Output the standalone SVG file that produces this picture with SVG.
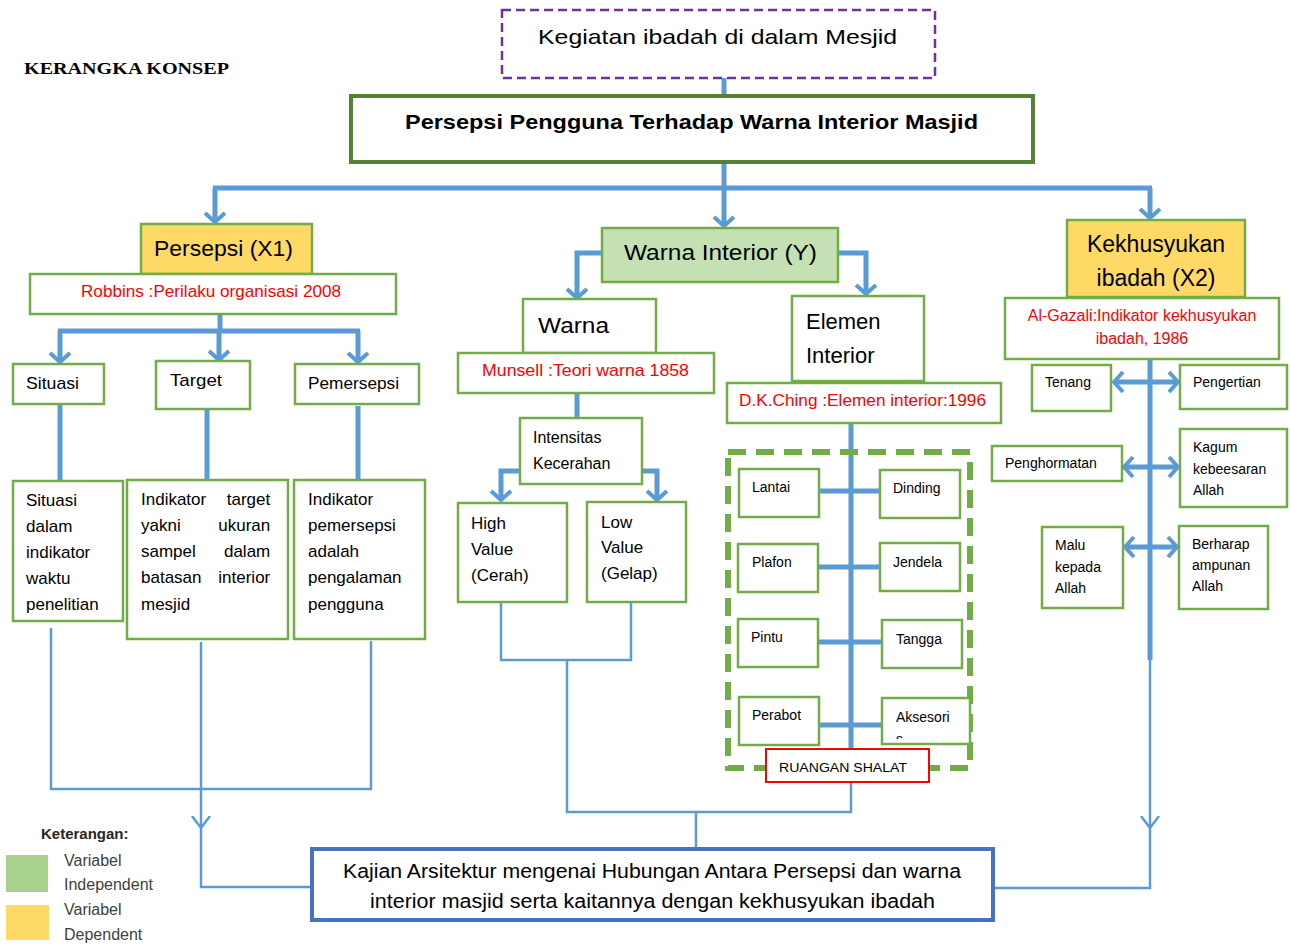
<svg xmlns="http://www.w3.org/2000/svg" width="1290" height="945" viewBox="0 0 1290 945">
<style>
.t{font-family:"Liberation Sans",Arial,sans-serif;fill:#000}
.r{fill:#FF0000}
.g{fill:#404040}
.box{fill:#fff;stroke:#70AD47;stroke-width:2.5}
.thk{fill:none;stroke:#5B9BD5;stroke-width:5}
.thn{fill:none;stroke:#5B9BD5;stroke-width:2.5}
</style>
<defs>
<marker id="ah" viewBox="-12 -12 24 24" refX="0" refY="0" markerWidth="24" markerHeight="24" markerUnits="userSpaceOnUse" orient="auto-start-reverse">
<path d="M-9,-10 L0,0 L-9,10" fill="none" stroke="#5B9BD5" stroke-width="4"/>
</marker>
<marker id="ahs" viewBox="-12 -12 24 24" refX="0" refY="0" markerWidth="24" markerHeight="24" markerUnits="userSpaceOnUse" orient="auto">
<path d="M-12,-9 L0,0 L-12,9" fill="none" stroke="#5B9BD5" stroke-width="2.5"/>
</marker>
<clipPath id="clipAks"><rect x="882" y="698" width="88" height="41"/></clipPath>
</defs>
<rect width="1290" height="945" fill="#fff"/>

<text x="24" y="74" style="font-family:'Liberation Serif','Times New Roman',serif;font-weight:bold;font-size:17px" textLength="205" lengthAdjust="spacingAndGlyphs">KERANGKA KONSEP</text>

<g id="connectors">
<line class="thk" x1="724" y1="78" x2="724" y2="95"/>
<path class="thk" d="M724,163 V226" marker-end="url(#ah)"/>
<path class="thk" d="M213,188 H1152"/>
<path class="thk" d="M215,188 V222" marker-end="url(#ah)"/>
<path class="thk" d="M1150,188 V218" marker-end="url(#ah)"/>
<path class="thk" d="M220,314 V331"/>
<path class="thk" d="M58,331 H360"/>
<path class="thk" d="M60,331 V362" marker-end="url(#ah)"/>
<path class="thk" d="M219,331 V360" marker-end="url(#ah)"/>
<path class="thk" d="M358,331 V362" marker-end="url(#ah)"/>
<path class="thk" d="M60,404 V481"/>
<path class="thk" d="M207,409 V480"/>
<path class="thk" d="M358,406 V480"/>
<path class="thn" d="M51,628 V789 H371 V641"/>
<path class="thn" d="M201,642 V828" marker-end="url(#ahs)"/>
<path class="thn" d="M201,826 V887 H312"/>
<path class="thk" d="M602,253 H577 V298" marker-end="url(#ah)"/>
<path class="thk" d="M838,253 H866 V294" marker-end="url(#ah)"/>
<path class="thk" d="M577,393 V418"/>
<path class="thk" d="M520,471 H501 V500" marker-end="url(#ah)"/>
<path class="thk" d="M642,471 H657 V500" marker-end="url(#ah)"/>
<path class="thn" d="M501,602 V660 H631 V602"/>
<path class="thn" d="M567,660 V812 H851 V782"/>
<path class="thn" d="M696,812 V848"/>
<path class="thk" d="M851,423 V749"/>
<path class="thk" d="M819,491 H880 M818,567 H880 M818,642 H882 M819,725 H882"/>
<path class="thk" d="M1150,359 V660"/>
<path class="thn" d="M1150,658 V828" marker-end="url(#ahs)"/>
<path class="thn" d="M1150,826 V888 H993"/>
<path class="thk" d="M1114,382 H1178" marker-start="url(#ah)" marker-end="url(#ah)"/>
<path class="thk" d="M1124,467 H1178" marker-start="url(#ah)" marker-end="url(#ah)"/>
<path class="thk" d="M1125,547 H1177" marker-start="url(#ah)" marker-end="url(#ah)"/>
</g>

<g id="kegiatan">
<rect x="502" y="10" width="433" height="68" fill="#fff" stroke="#7030A0" stroke-width="2.5" stroke-dasharray="9 5"/>
<text class="t" x="538" y="44" font-size="21" textLength="359" lengthAdjust="spacingAndGlyphs">Kegiatan ibadah di dalam Mesjid</text>
</g>

<g id="persepsi-pengguna">
<rect x="351" y="96" width="682" height="66" fill="#fff" stroke="#548235" stroke-width="4"/>
<text class="t" x="405" y="129" font-size="21" font-weight="bold" textLength="573" lengthAdjust="spacingAndGlyphs">Persepsi Pengguna Terhadap Warna Interior Masjid</text>
</g>

<g id="persepsi-x1">
<rect x="141" y="224" width="171" height="50" fill="#FFD966" stroke="#70AD47" stroke-width="2.5"/>
<text class="t" x="154" y="256" font-size="22" textLength="139" lengthAdjust="spacingAndGlyphs">Persepsi (X1)</text>
</g>
<g id="robbins">
<rect class="box" x="30" y="274" width="366" height="40"/>
<text class="t r" x="81" y="297" font-size="17" textLength="260" lengthAdjust="spacingAndGlyphs">Robbins :Perilaku organisasi 2008</text>
</g>
<g id="situasi">
<rect class="box" x="13" y="364" width="91" height="40"/>
<text class="t" x="26" y="389" font-size="17" textLength="53" lengthAdjust="spacingAndGlyphs">Situasi</text>
</g>
<g id="target">
<rect class="box" x="156" y="361" width="94" height="48"/>
<text class="t" x="170" y="386" font-size="17" textLength="52" lengthAdjust="spacingAndGlyphs">Target</text>
</g>
<g id="pemersepsi">
<rect class="box" x="295" y="364" width="124" height="40"/>
<text class="t" x="308" y="389" font-size="17" textLength="91" lengthAdjust="spacingAndGlyphs">Pemersepsi</text>
</g>
<g id="situasi-ind">
<rect class="box" x="13" y="481" width="110" height="140"/>
<text class="t" font-size="17">
<tspan x="26" y="506">Situasi</tspan><tspan x="26" y="532">dalam</tspan><tspan x="26" y="558">indikator</tspan><tspan x="26" y="584">waktu</tspan><tspan x="26" y="610">penelitian</tspan>
</text>
</g>
<g id="target-ind">
<rect class="box" x="127" y="480" width="161" height="159"/>
<text class="t" font-size="17">
<tspan x="141" y="505">Indikator</tspan><tspan x="275" y="505" text-anchor="end">target</tspan>
<tspan x="141" y="531">yakni</tspan><tspan x="275" y="531" text-anchor="end">ukuran</tspan>
<tspan x="141" y="557">sampel</tspan><tspan x="275" y="557" text-anchor="end">dalam</tspan>
<tspan x="141" y="583">batasan</tspan><tspan x="275" y="583" text-anchor="end">interior</tspan>
<tspan x="141" y="610">mesjid</tspan>
</text>
</g>
<g id="pemersepsi-ind">
<rect class="box" x="294" y="480" width="131" height="159"/>
<text class="t" font-size="17">
<tspan x="308" y="505">Indikator</tspan><tspan x="308" y="531">pemersepsi</tspan><tspan x="308" y="557">adalah</tspan><tspan x="308" y="583">pengalaman</tspan><tspan x="308" y="610">pengguna</tspan>
</text>
</g>

<g id="warna-interior">
<rect x="602" y="228" width="236" height="54" fill="#C5E0B4" stroke="#70AD47" stroke-width="2.5"/>
<text class="t" x="624" y="260" font-size="22" textLength="193" lengthAdjust="spacingAndGlyphs">Warna Interior (Y)</text>
</g>
<g id="warna">
<rect class="box" x="523" y="299" width="133" height="54"/>
<text class="t" x="538" y="333" font-size="22" textLength="71" lengthAdjust="spacingAndGlyphs">Warna</text>
</g>
<g id="munsell">
<rect class="box" x="458" y="353" width="256" height="40"/>
<text class="t r" x="482" y="376" font-size="17" textLength="207" lengthAdjust="spacingAndGlyphs">Munsell :Teori warna 1858</text>
</g>
<g id="intensitas">
<rect class="box" x="520" y="418" width="122" height="66"/>
<text class="t" font-size="16"><tspan x="533" y="443">Intensitas</tspan><tspan x="533" y="469">Kecerahan</tspan></text>
</g>
<g id="high-value">
<rect class="box" x="458" y="503" width="109" height="99"/>
<text class="t" font-size="17"><tspan x="471" y="529">High</tspan><tspan x="471" y="555">Value</tspan><tspan x="471" y="581">(Cerah)</tspan></text>
</g>
<g id="low-value">
<rect class="box" x="587" y="502" width="99" height="100"/>
<text class="t" font-size="17"><tspan x="601" y="528">Low</tspan><tspan x="601" y="553">Value</tspan><tspan x="601" y="579">(Gelap)</tspan></text>
</g>

<g id="elemen-interior">
<rect class="box" x="792" y="296" width="132" height="85"/>
<text class="t" font-size="22"><tspan x="806" y="329">Elemen</tspan><tspan x="806" y="363">Interior</tspan></text>
</g>
<g id="dkching">
<rect class="box" x="727" y="383" width="274" height="40"/>
<text class="t r" x="739" y="406" font-size="17" textLength="247" lengthAdjust="spacingAndGlyphs">D.K.Ching :Elemen interior:1996</text>
</g>
<g id="ruangan-frame">
<rect x="728" y="452" width="242" height="316" fill="none" stroke="#70AD47" stroke-width="6" stroke-dasharray="18 10"/>
</g>
<g id="lantai"><rect class="box" x="739" y="469" width="80" height="48"/><text class="t" x="752" y="492" font-size="14">Lantai</text></g>
<g id="dinding"><rect class="box" x="880" y="470" width="80" height="48"/><text class="t" x="893" y="493" font-size="14">Dinding</text></g>
<g id="plafon"><rect class="box" x="738" y="544" width="80" height="48"/><text class="t" x="752" y="567" font-size="14">Plafon</text></g>
<g id="jendela"><rect class="box" x="880" y="543" width="80" height="48"/><text class="t" x="893" y="567" font-size="14">Jendela</text></g>
<g id="pintu"><rect class="box" x="738" y="619" width="80" height="48"/><text class="t" x="751" y="642" font-size="14">Pintu</text></g>
<g id="tangga"><rect class="box" x="882" y="620" width="80" height="48"/><text class="t" x="896" y="644" font-size="14">Tangga</text></g>
<g id="perabot"><rect class="box" x="739" y="697" width="80" height="48"/><text class="t" x="752" y="720" font-size="14">Perabot</text></g>
<g id="aksesoris"><rect class="box" x="882" y="698" width="88" height="46"/><text class="t" x="896" y="722" font-size="14">Aksesori</text><text class="t" x="896" y="744" font-size="14" clip-path="url(#clipAks)">s</text></g>
<g id="ruangan-shalat">
<rect x="766" y="749" width="163" height="33" fill="#fff" stroke="#FF0000" stroke-width="2"/>
<text class="t" x="779" y="772" font-size="13" textLength="128" lengthAdjust="spacingAndGlyphs">RUANGAN SHALAT</text>
</g>

<g id="kekhusyukan">
<rect x="1067" y="220" width="178" height="77" fill="#FFD966" stroke="#70AD47" stroke-width="2.5"/>
<text class="t" font-size="23" text-anchor="middle"><tspan x="1156" y="252">Kekhusyukan</tspan><tspan x="1156" y="286">ibadah (X2)</tspan></text>
</g>
<g id="algazali">
<rect class="box" x="1005" y="298" width="274" height="61"/>
<text class="t r" font-size="16" text-anchor="middle"><tspan x="1142" y="321">Al-Gazali:Indikator kekhusyukan</tspan><tspan x="1142" y="344">ibadah, 1986</tspan></text>
</g>
<g id="tenang"><rect class="box" x="1032" y="365" width="79" height="46"/><text class="t" x="1045" y="387" font-size="14">Tenang</text></g>
<g id="pengertian"><rect class="box" x="1180" y="365" width="107" height="44"/><text class="t" x="1193" y="387" font-size="14">Pengertian</text></g>
<g id="penghormatan"><rect class="box" x="992" y="446" width="130" height="35"/><text class="t" x="1005" y="468" font-size="14">Penghormatan</text></g>
<g id="kagum"><rect class="box" x="1180" y="429" width="107" height="78"/><text class="t" font-size="14"><tspan x="1193" y="452">Kagum</tspan><tspan x="1193" y="474">kebeesaran</tspan><tspan x="1193" y="495">Allah</tspan></text></g>
<g id="malu"><rect class="box" x="1042" y="527" width="81" height="81"/><text class="t" font-size="14"><tspan x="1055" y="550">Malu</tspan><tspan x="1055" y="572">kepada</tspan><tspan x="1055" y="593">Allah</tspan></text></g>
<g id="berharap"><rect class="box" x="1179" y="526" width="89" height="83"/><text class="t" font-size="14"><tspan x="1192" y="549">Berharap</tspan><tspan x="1192" y="570">ampunan</tspan><tspan x="1192" y="591">Allah</tspan></text></g>

<g id="kajian">
<rect x="312" y="849" width="681" height="71" fill="#fff" stroke="#4472C4" stroke-width="4"/>
<text class="t" x="343" y="878" font-size="20" textLength="618" lengthAdjust="spacingAndGlyphs">Kajian Arsitektur mengenai Hubungan Antara Persepsi dan warna</text>
<text class="t" x="370" y="908" font-size="20" textLength="565" lengthAdjust="spacingAndGlyphs">interior masjid serta kaitannya dengan kekhusyukan ibadah</text>
</g>

<g id="legend">
<text class="t" x="41" y="839" font-size="15" font-weight="bold" style="fill:#262626">Keterangan:</text>
<rect x="6" y="855" width="42" height="37" fill="#A9D18E"/>
<text class="t g" font-size="16"><tspan x="64" y="866">Variabel</tspan><tspan x="64" y="890">Independent</tspan></text>
<rect x="6" y="905" width="43" height="35" fill="#FFD966"/>
<text class="t g" font-size="16"><tspan x="64" y="915">Variabel</tspan><tspan x="64" y="940">Dependent</tspan></text>
</g>
</svg>
